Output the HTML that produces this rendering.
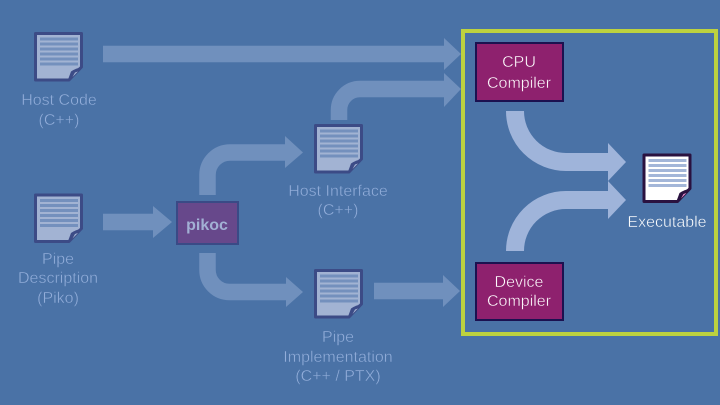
<!DOCTYPE html>
<html><head><meta charset="utf-8"><style>
html,body{margin:0;padding:0;background:#4a72a6}
svg{display:block}
text{font-family:"Liberation Sans",sans-serif;font-size:16px;text-anchor:middle;stroke-width:.4px}
.f{fill:#93aeda;stroke:#4a72a6}
.w{fill:#ffffff;stroke:#8e216e}
.e{fill:#ffffff;stroke:#4a72a6}
</style></head><body>
<svg width="720" height="405" viewBox="0 0 720 405" xmlns="http://www.w3.org/2000/svg">
<defs>
<g id="d">
<path d="M1.500 1.500H47.500V35L35 48H1.500Z" fill="var(--f)" stroke="var(--b)" stroke-width="3" stroke-linejoin="round"/>
<g fill="var(--l)"><rect x="6" y="5.500" width="38" height="3"/><rect x="6" y="10.500" width="38" height="3"/><rect x="6" y="15.500" width="38" height="3"/><rect x="6" y="20.500" width="38" height="3"/><rect x="6" y="25.500" width="38" height="3"/><rect x="6" y="30.500" width="38" height="3"/></g>
<path d="M33.500 49L37 39.500Q42 36 49 35Z" fill="var(--b)"/>
<path d="M38.500 45L41 40.500L44 39.500Z" fill="var(--c)"/>
</g>
</defs>
<rect width="720" height="405" fill="#4a72a6"/>
<rect x="463" y="31" width="253" height="303" fill="none" stroke="#bdd23f" stroke-width="4"/>
<g fill="none" stroke="#7090bd" stroke-width="16.500">
<path d="M103 54H445"/>
<path d="M339 120V110A21 21 0 0 1 360 89H445"/>
<path d="M207.500 195V175A22.500 22.500 0 0 1 230 152.500H287"/>
<path d="M207.500 253V270A22 22 0 0 0 229.500 292H288"/>
<path d="M374 291H445"/>
<path d="M103 222H155"/>
</g>
<g fill="#7090bd">
<path d="M444 38L461 54L444 70Z"/>
<path d="M444 73L461 89L444 107Z"/>
<path d="M285 136L303 152.500L285 168Z"/>
<path d="M286 277L303 292L286 307Z"/>
<path d="M443 275L460 291L443 307Z"/>
<path d="M153 206L172 222L153 238Z"/>
</g>
<g fill="none" stroke="#9fb4da" stroke-width="18">
<path d="M515 111A51 51 0 0 0 566 162H610"/>
<path d="M515 251A51 51 0 0 1 566 200H610"/>
</g>
<g fill="#9fb4da">
<path d="M608 143L626 162L608 181Z"/>
<path d="M608 181L626 200L608 219Z"/>
</g>
<g style="--f:#a2b3d3;--b:#3c4b86;--l:#7490bd;--c:#a2b3d3">
<use href="#d" x="34" y="32"/>
<use href="#d" x="34" y="193.500"/>
<use href="#d" x="314" y="124"/>
<use href="#d" x="314" y="269"/>
</g>
<g style="--f:#ffffff;--b:#2a1240;--l:#a3b6d8;--c:#e58ccc">
<use href="#d" x="642.500" y="153.500"/>
</g>
<rect x="476" y="43" width="87" height="58" fill="#8e216e" stroke="#1b1150" stroke-width="2"/>
<rect x="476" y="263" width="87" height="57" fill="#8e216e" stroke="#1b1150" stroke-width="2"/>
<rect x="177" y="202" width="61" height="42" fill="#67488b" stroke="#3a4a86" stroke-width="2"/>
<text x="207" y="230" style="font-weight:bold;stroke:none" fill="#a2b0d4">pikoc</text>
<text class="f" x="59" y="105">Host Code</text>
<text class="f" x="59" y="125">(C++)</text>
<text class="f" x="338" y="196">Host Interface</text>
<text class="f" x="338" y="215">(C++)</text>
<text class="f" x="58" y="264">Pipe</text>
<text class="f" x="58" y="283">Description</text>
<text class="f" x="58" y="303">(Piko)</text>
<text class="f" x="338" y="342">Pipe</text>
<text class="f" x="338" y="362">Implementation</text>
<text class="f" x="338" y="381">(C++ / PTX)</text>
<text class="w" x="519" y="67">CPU</text>
<text class="w" x="519" y="88">Compiler</text>
<text class="w" x="519" y="287">Device</text>
<text class="w" x="519" y="306">Compiler</text>
<text class="e" x="667" y="227">Executable</text>
</svg>
</body></html>
